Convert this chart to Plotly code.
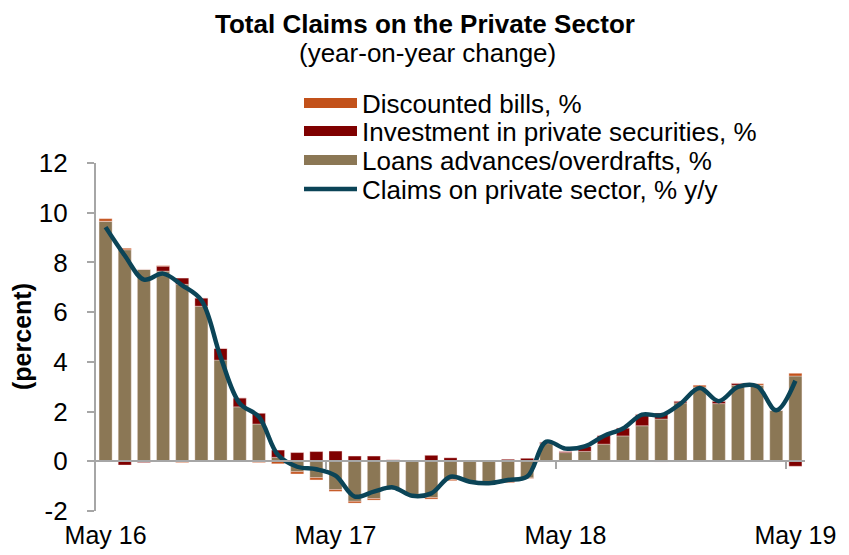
import plotly.graph_objects as go

months = ["May 16","Jun 16","Jul 16","Aug 16","Sep 16","Oct 16","Nov 16","Dec 16","Jan 17","Feb 17","Mar 17","Apr 17",
          "May 17","Jun 17","Jul 17","Aug 17","Sep 17","Oct 17","Nov 17","Dec 17","Jan 18","Feb 18","Mar 18","Apr 18",
          "May 18","Jun 18","Jul 18","Aug 18","Sep 18","Oct 18","Nov 18","Dec 18","Jan 19","Feb 19","Mar 19","Apr 19",
          "May 19"]

loans = [9.66, 8.51, 7.72, 7.65, 7.12, 6.24, 4.07, 2.19, 1.50, 0.16, -0.42, -0.66,
         -1.14, -1.61, -1.50, -1.12, -1.38, -1.46, -0.73, -0.83, -0.88, -0.82, -0.67, 0.71,
         0.35, 0.40, 0.69, 1.02, 1.43, 1.70, 2.35, 2.99, 2.32, 3.06, 3.06, 2.05,
         3.43]
investment = [0.00, -0.15, -0.05, 0.20, 0.25, 0.33, 0.47, 0.36, 0.43, 0.29, 0.35, 0.39,
              0.41, 0.21, 0.21, 0.06, 0.00, 0.24, 0.14, 0.00, 0.03, 0.08, 0.12, 0.06,
              0.05, 0.20, 0.35, 0.32, 0.46, 0.24, 0.07, 0.00, 0.10, 0.08, 0.00, 0.00,
              -0.20]
discounted = [0.10, 0.06, 0.00, 0.02, -0.05, 0.00, 0.00, 0.00, -0.05, -0.10, -0.09, -0.09,
              -0.07, -0.07, -0.06, 0.00, 0.00, -0.06, -0.05, 0.00, 0.00, -0.04, -0.02, 0.00,
              0.00, 0.00, 0.00, 0.00, 0.00, -0.03, 0.00, 0.07, 0.00, 0.00, 0.06, 0.00,
              0.11]
claims = [9.42, 8.28, 7.31, 7.55, 7.08, 6.48, 4.20, 2.33, 1.79, 0.25, -0.22, -0.32,
          -0.58, -1.42, -1.22, -1.05, -1.39, -1.29, -0.62, -0.82, -0.88, -0.75, -0.62, 0.79,
          0.51, 0.60, 1.02, 1.32, 1.88, 1.85, 2.32, 2.95, 2.42, 2.99, 3.02, 2.05,
          3.24]

label_idx = [0, 12, 24, 36]
tick_labels = ["May 16", "May 17", "May 18", "May 19"]
y_ticks = [-2, 0, 2, 4, 6, 8, 10, 12]
y_tick_labels = ["-2", "0", "2", "4", "6", "8", "10", "12"]

C_LOANS = "#8B7755"
C_INV = "#7F0000"
C_DISC = "#C2511A"
C_LINE = "#0B4457"
FONT = "Liberation Sans"
FS = 26

# the page puts the figure 8px from the top-left corner of the window
OFF = 8
W, H = 849 - OFF, 555 - OFF
ML, MR, MT, MB = 96 - OFF, 44, 163 - OFF, 44
PW, PH = W - ML - MR, H - MT - MB


def px_y(py):  # window pixel y -> paper y
    return (H - MB - (py - OFF)) / PH


def px_x(px):  # window pixel x -> paper x
    return (px - OFF - ML) / PW


x = list(range(len(months)))

fig = go.Figure()
edge = dict(color="rgba(255,235,235,0.6)", width=0.6)
fig.add_trace(go.Bar(x=x, y=loans, marker=dict(color=C_LOANS, line=edge), width=0.68, showlegend=False, name="Loans advances/overdrafts, %"))
fig.add_trace(go.Bar(x=x, y=investment, marker=dict(color=C_INV, line=edge), width=0.68, showlegend=False, name="Investment in private securities, %"))
fig.add_trace(go.Bar(x=x, y=discounted, marker=dict(color=C_DISC, line=edge), width=0.68, showlegend=False, name="Discounted bills, %"))
fig.add_trace(go.Scatter(x=x, y=claims, mode="lines", line=dict(color=C_LINE, width=4.5, shape="spline", smoothing=1.0),
                         showlegend=False, name="Claims on private sector, % y/y"))

# legend entries (wide swatches like the original), one legend per row for exact spacing
entries = [("Discounted bills, %", C_DISC, 11), ("Investment in private securities, %", C_INV, 11),
           ("Loans advances/overdrafts, %", C_LOANS, 11), ("Claims on private sector, % y/y", C_LINE, 4.5)]
row_px = [103, 131, 160, 189]
legend_layouts = {}
for i, ((nm, col, w), py) in enumerate(zip(entries, row_px)):
    key = "legend" if i == 0 else f"legend{i + 1}"
    fig.add_trace(go.Scatter(x=[None], y=[None], mode="lines", line=dict(color=col, width=w), name=nm,
                             showlegend=True, legend=key))
    legend_layouts[key] = dict(xref="container", yref="container", x=(299 - OFF) / W, y=1 - (py - OFF) / H,
                               xanchor="left", yanchor="middle",
                               font=dict(size=FS), itemwidth=53, bgcolor="rgba(0,0,0,0)", borderwidth=0)

# axis crossing at zero with tick marks between categories
fig.add_trace(go.Scatter(x=[None], y=[None], xaxis="x2", showlegend=False))

NB = "\u00a0\u00a0"
fig.update_layout(
    width=W, height=H,
    margin=dict(l=ML, r=MR, t=MT, b=MB, autoexpand=False),
    paper_bgcolor="white", plot_bgcolor="white",
    barmode="relative",
    font=dict(family=FONT, size=FS, color="black"),
    xaxis=dict(range=[-0.5, len(months) - 0.5], tickvals=label_idx, ticktext=tick_labels, showline=False,
               ticks="", showgrid=False, zeroline=False, ticklabelstandoff=7, automargin=False,
               tickfont=dict(size=25)),
    xaxis2=dict(range=[-0.5, len(months) - 0.5], overlaying="x", anchor="free", position=2 / 14,
                showline=True, linecolor="#A6A6A6", linewidth=1.5, ticks="outside", ticklen=7, tickwidth=1.5,
                tickcolor="#A6A6A6", tickvals=[11.5, 23.5, 35.5], showticklabels=False, showgrid=False,
                zeroline=False, automargin=False),
    yaxis=dict(range=[-2, 12], tickvals=y_ticks, ticktext=[t + NB for t in y_tick_labels],
               showline=True, linecolor="#A6A6A6", linewidth=1.5,
               ticks="outside", ticklen=7, tickwidth=1.5, tickcolor="#A6A6A6", showgrid=False, zeroline=False,
               automargin=False),
    annotations=[
        dict(text="<b>Total Claims on the Private Sector</b>", x=px_x(425), xref="paper", xanchor="center",
             y=px_y(24), yref="paper", yanchor="middle", showarrow=False, font=dict(size=26)),
        dict(text="(year-on-year change)", x=px_x(427), xref="paper", xanchor="center",
             y=px_y(53), yref="paper", yanchor="middle", showarrow=False, font=dict(size=FS)),
        dict(text="<b>(percent)</b>", textangle=-90, x=px_x(22), xref="paper", xanchor="center",
             y=px_y(337), yref="paper", yanchor="middle", showarrow=False, font=dict(size=25)),
    ],
    **legend_layouts,
)

fig.write_html("out.html")
